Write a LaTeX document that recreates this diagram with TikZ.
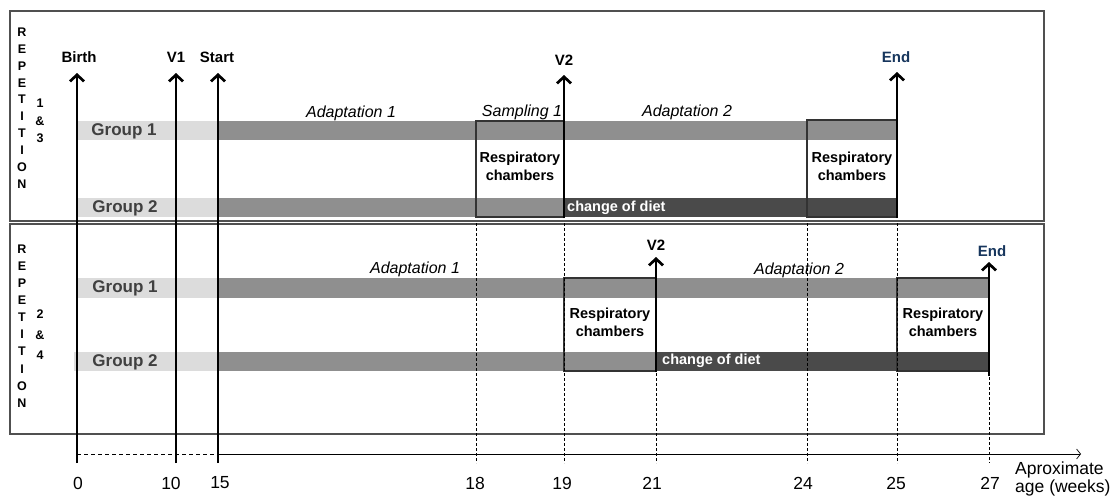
\documentclass[tikz,border=0pt]{standalone}
\usepackage{fontspec}
\setmainfont{Liberation Sans}
\usetikzlibrary{arrows.meta,positioning}
\definecolor{barlight}{HTML}{DCDCDC}
\definecolor{barmid}{HTML}{8F8F8F}
\definecolor{bardark}{HTML}{4A4A4A}
\definecolor{grptext}{HTML}{404040}
\definecolor{endblue}{HTML}{17365D}
\definecolor{frame}{HTML}{505050}
\begin{document}
\begin{tikzpicture}
  [x=1pt,y=-1pt,every node/.style={inner sep=1pt},
   panel/.style={draw=frame,line width=1.1pt},
   chamber/.style={draw=black!80,line width=1.1pt},
   event/.style={line width=2.7pt,-{Straight Barb[length=6.5pt,width=14pt]}},
   guide/.style={line width=.7pt,dash pattern=on 3pt off 2pt},
   lbl/.style={font=\bfseries\fontsize{15}{18}\selectfont},
   grp/.style={font=\bfseries\fontsize{17}{20}\selectfont,text=grptext},
   phase/.style={font=\itshape\fontsize{16}{19}\selectfont},
   rc/.style={font=\bfseries\fontsize{14.5}{18}\selectfont,align=center},
   diet/.style={font=\bfseries\fontsize{14.5}{18}\selectfont,text=white,anchor=west},
   rep/.style={font=\bfseries\fontsize{12.5}{14}\selectfont},
   tick/.style={font=\fontsize{17.5}{15}\selectfont}]
  \useasboundingbox (0,0) rectangle (1113,499);

  % panels
  \draw[panel] (10,11) rectangle (1044,221);
  \draw[panel] (10,224) rectangle (1044,434);

  % repetition 1 & 3
  \fill[barlight] (78,121) rectangle (218,140);
  \fill[barmid] (218,121) rectangle (897,140);
  \fill[barlight] (78,198) rectangle (218,217);
  \fill[barmid] (218,198) rectangle (564,217);
  \fill[bardark] (564,198) rectangle (897,217);
  \draw[chamber] (476,121) rectangle (564,217);
  \draw[chamber] (807,120) rectangle (897,217);

  % repetition 2 & 4
  \fill[barlight] (78,278) rectangle (218,298);
  \fill[barmid] (218,278) rectangle (989,298);
  \fill[barlight] (74,352) rectangle (218,371);
  \fill[barmid] (218,352) rectangle (656,371);
  \fill[bardark] (656,352) rectangle (989,371);
  \draw[chamber] (564,278) rectangle (656,371);
  \draw[chamber] (897,278) rectangle (989,371);

  \foreach \l [count=\i] in {R,E,P,E,T,I,T,I,O,N} {
    \node[rep] (repa\i) at (22,{32+16.9*(\i-1)}) {\l};
    \node[rep] (repb\i) at (22,{249+17.1*(\i-1)}) {\l};
  }
  \node[rep] (na1) at (40,103) {1};
  \node[rep] (na2) at (40,121) {\&};
  \node[rep] (na3) at (40,138) {3};
  \node[rep] (nb1) at (40,314) {2};
  \node[rep] (nb2) at (40,335) {\&};
  \node[rep] (nb3) at (40,355) {4};

  \node[grp] (ga1) at (124,131) {Group 1};
  \node[grp] (ga2) at (125,208) {Group 2};
  \node[grp] (gb1) at (125,288) {Group 1};
  \node[grp] (gb2) at (125,362) {Group 2};

  \node[phase] (adaa1) at (351,113) {Adaptation 1};
  \node[phase] (sama1) at (522,112) {Sampling 1};
  \node[phase] (adaa2) at (687,112) {Adaptation 2};
  \node[phase] (adab1) at (415,269) {Adaptation 1};
  \node[phase] (adab2) at (799,270) {Adaptation 2};

  \node[rc] (rca1) at (520,166) {Respiratory\\chambers};
  \node[rc] (rca2) at (852,166) {Respiratory\\chambers};
  \node[rc] (rcb1) at (610,322) {Respiratory\\chambers};
  \node[rc] (rcb2) at (943,322) {Respiratory\\chambers};
  \node[diet] (dieta) at (566,208) {change of diet};
  \node[diet] (dietb) at (661,361) {change of diet};

  % time axis
  \foreach \x in {476,564,807,897} \draw[guide] (\x,223) -- (\x,463);
  \draw[guide] (656,373) -- (656,463);
  \draw[guide] (989,377) -- (989,463);
  \draw[line width=.7pt,dash pattern=on 4pt off 3pt] (77,454) -- (218,454);
  \draw[line width=.7pt,-{Straight Barb[length=4pt,width=10pt]}] (218,454) -- (1081,454);
  \foreach \t/\x in {0/78,10/171,15/220,18/475,19/562,21/652,24/803,25/896,27/990}
    \node[tick] (t\t) at (\x,483) {\t};
  \node[tick,anchor=west,align=left] (agelbl) at (1014,479) {Aproximate\\age (weeks)};

  % events
  \coordinate (birthbot) at (77,463);  \coordinate (birthtip) at (77,73);
  \coordinate (vabot) at (176,463);    \coordinate (vatip) at (176,73);
  \coordinate (startbot) at (218,463); \coordinate (starttip) at (218,73);
  \coordinate (vbabot) at (564,218);   \coordinate (vbatip) at (564,75);
  \coordinate (endabot) at (897,218);  \coordinate (endatip) at (897,72);
  \coordinate (vbbbot) at (656,372);   \coordinate (vbbtip) at (656,257);
  \coordinate (endbbot) at (989,376);  \coordinate (endbtip) at (989,262);

\path[event]
    (birthbot) edge (birthtip)
    (vabot) edge (vatip)
    (startbot) edge (starttip)
    (vbabot) edge (vbatip)
    (endabot) edge (endatip)
    (vbbbot) edge (vbbtip)
    (endbbot) edge (endbtip)
    ;

  \node[lbl] (birth) at (79,57) {Birth};
  \node[lbl] (va) at (176,57) {V1};
  \node[lbl] (start) at (217,57) {Start};
  \node[lbl] (vba) at (564,60) {V2};
  \node[lbl,text=endblue] (enda) at (896,57) {End};
  \node[lbl] (vbb) at (656,245) {V2};
  \node[lbl,text=endblue] (endb) at (992,251) {End};

\end{tikzpicture}
\end{document}
